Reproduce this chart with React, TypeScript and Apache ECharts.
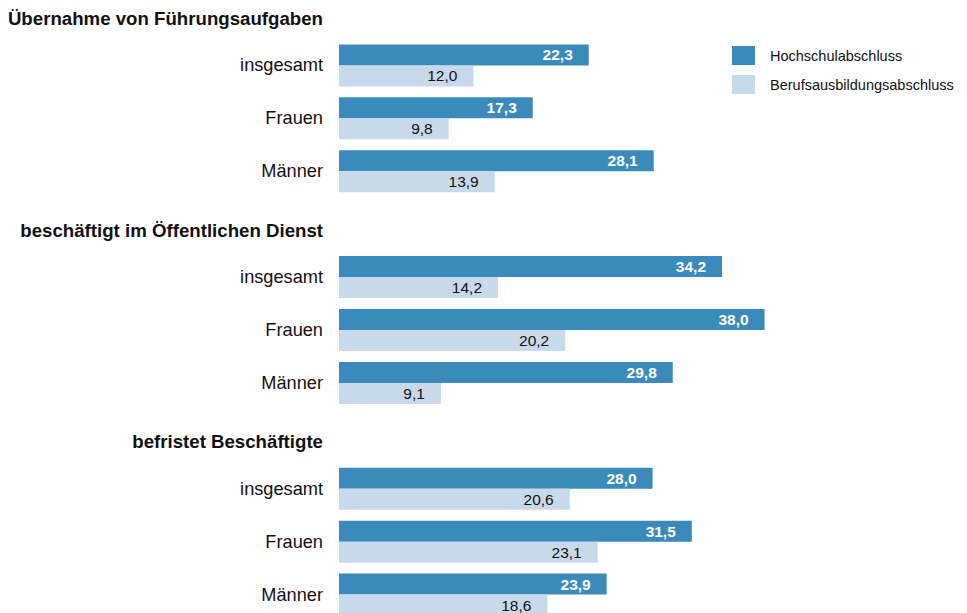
import React, { useEffect, useRef } from "react";
import * as echarts from "echarts";

const rowLabels = [
  "Übernahme von Führungsaufgaben",
  "insgesamt",
  "Frauen",
  "Männer",
  "beschäftigt im Öffentlichen Dienst",
  "insgesamt",
  "Frauen",
  "Männer",
  "befristet Beschäftigte",
  "insgesamt",
  "Frauen",
  "Männer",
];
const headerRows = [0, 4, 8];
const hochschul = [null, 22.3, 17.3, 28.1, null, 34.2, 38.0, 29.8, null, 28.0, 31.5, 23.9];
const beruf = [null, 12.0, 9.8, 13.9, null, 14.2, 20.2, 9.1, null, 20.6, 23.1, 18.6];
const seriesNames = ["Hochschulabschluss", "Berufsausbildungsabschluss"];

const FONT = "Liberation Sans";
const OFFSET = 14;

export default function App() {
  const ref = useRef<HTMLDivElement>(null);
  useEffect(() => {
    const chart = echarts.init(ref.current!, null, { renderer: "svg" });
    const fmt = (p: any) =>
      p.value == null ? "" : Number(p.value).toFixed(1).replace(".", ",");
    chart.setOption({
      animation: false,
      legend: {
        orient: "vertical",
        left: 732,
        top: 46 + OFFSET,
        padding: 0,
        itemWidth: 23,
        itemHeight: 19,
        itemGap: 10,
        icon: "rect",
        data: seriesNames,
        textStyle: {
          fontFamily: FONT,
          fontSize: 14.5,
          color: "#111",
          padding: [7, 0, 0, 10],
        },
      },
      grid: { left: 339, top: 0, height: 635, width: 448, containLabel: false },
      xAxis: {
        type: "value",
        min: 0,
        max: 40,
        show: false,
      },
      yAxis: {
        type: "category",
        inverse: true,
        data: rowLabels.map((_, i) => "r" + i),
        axisLine: { show: false },
        axisTick: { show: false },
        splitLine: { show: false },
        axisLabel: {
          margin: 16,
          fontFamily: FONT,
          fontSize: 18,
          color: "#111",
          formatter: (_v: string, i: number) =>
            headerRows.includes(i)
              ? "{h|" + rowLabels[i] + "}"
              : "{n|" + rowLabels[i] + "}",
          rich: {
            h: {
              fontFamily: FONT,
              fontSize: 18.67,
              fontWeight: "bold",
              color: "#111",
              padding: [12, 0, 0, 0],
            },
            n: { fontFamily: FONT, fontSize: 18.2, color: "#111" },
          },
        },
      },
      series: [
        {
          name: seriesNames[0],
          type: "bar",
          data: hochschul,
          barWidth: 21,
          barGap: "0%",
          itemStyle: { color: "#3a8bbb" },
          label: {
            show: true,
            position: "insideRight",
            distance: 16,
            formatter: fmt,
            color: "#fff",
            fontWeight: "bold",
            fontSize: 15.5,
            fontFamily: FONT,
          },
        },
        {
          name: seriesNames[1],
          type: "bar",
          data: beruf,
          barWidth: 21,
          barGap: "0%",
          itemStyle: { color: "#c9d9ec" },
          label: {
            show: true,
            position: "insideRight",
            distance: 16,
            formatter: fmt,
            color: "#111",
            fontSize: 15.5,
            fontFamily: FONT,
          },
        },
      ],
    });
    return () => chart.dispose();
  }, []);
  return (
    <div
      ref={ref}
      style={{
        position: "fixed",
        left: 0,
        top: -OFFSET,
        width: 967,
        height: 635,
        background: "#fff",
      }}
    />
  );
}
